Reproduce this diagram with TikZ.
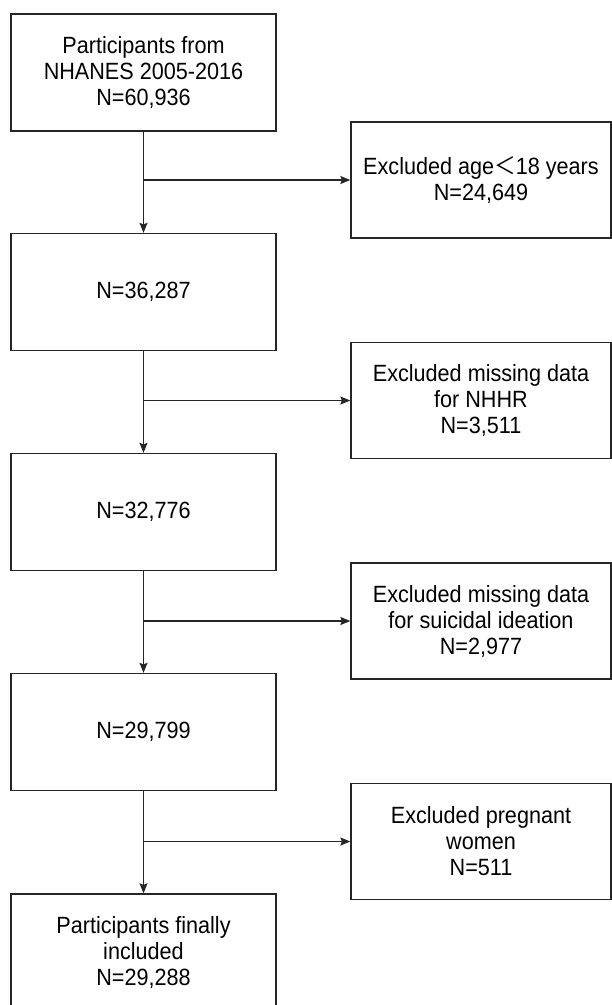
\documentclass[tikz,border=0pt]{standalone}
\usepackage{fontspec}
\setmainfont[FakeStretch=0.92]{Liberation Sans}
\newfontfamily\cjk[FakeStretch=0.92]{Noto Sans CJK SC}
\usetikzlibrary{arrows.meta}
\begin{document}
\begin{tikzpicture}[x=1pt,y=-1pt,
  box/.style={draw=black!85,line width=1.3pt,align=center,inner sep=0pt,
    font=\fontsize{23.5}{26}\selectfont,text=black},
  lbox/.style={box,minimum width=265pt,minimum height=117pt},
  rbox/.style={box,minimum width=260pt,minimum height=116pt},
  arr/.style={draw=black!85,line width=1.3pt,-{Stealth[length=10pt,width=8pt,inset=1.5pt]}}]
\clip (0,0) rectangle (612,1005);
\fill[white] (0,0) rectangle (612,1005);
\node[lbox] (b1) at (143.5,72.5) {Participants from\\NHANES 2005-2016\\N=60,936};
\node[lbox] (b2) at (143.5,292) {N=36,287};
\node[lbox] (b3) at (143.5,512) {N=32,776};
\node[lbox] (b4) at (143.5,732) {N=29,799};
\node[lbox] (b5) at (143.5,952.5) {Participants finally\\included\\N=29,288};
\node[rbox] (r1) at (481,180) {Excluded age{\cjk ＜}18 years\\N=24,649};
\node[rbox] (r2) at (481,400.5) {Excluded missing data\\for NHHR\\N=3,511};
\node[rbox] (r3) at (481,621) {Excluded missing data\\for suicidal ideation\\N=2,977};
\node[rbox] (r4) at (481,841.5) {Excluded pregnant\\women\\N=511};
\coordinate (j1) at (143.5,180);
\coordinate (j2) at (143.5,400.5);
\coordinate (j3) at (143.5,621);
\coordinate (j4) at (143.5,841.5);
\draw[arr] (b1.south) -- (b2.north);
\draw[arr] (b2.south) -- (b3.north);
\draw[arr] (b3.south) -- (b4.north);
\draw[arr] (b4.south) -- (b5.north);
\draw[arr] (j1) -- (r1.west);
\draw[arr] (j2) -- (r2.west);
\draw[arr] (j3) -- (r3.west);
\draw[arr] (j4) -- (r4.west);
\end{tikzpicture}
\end{document}
